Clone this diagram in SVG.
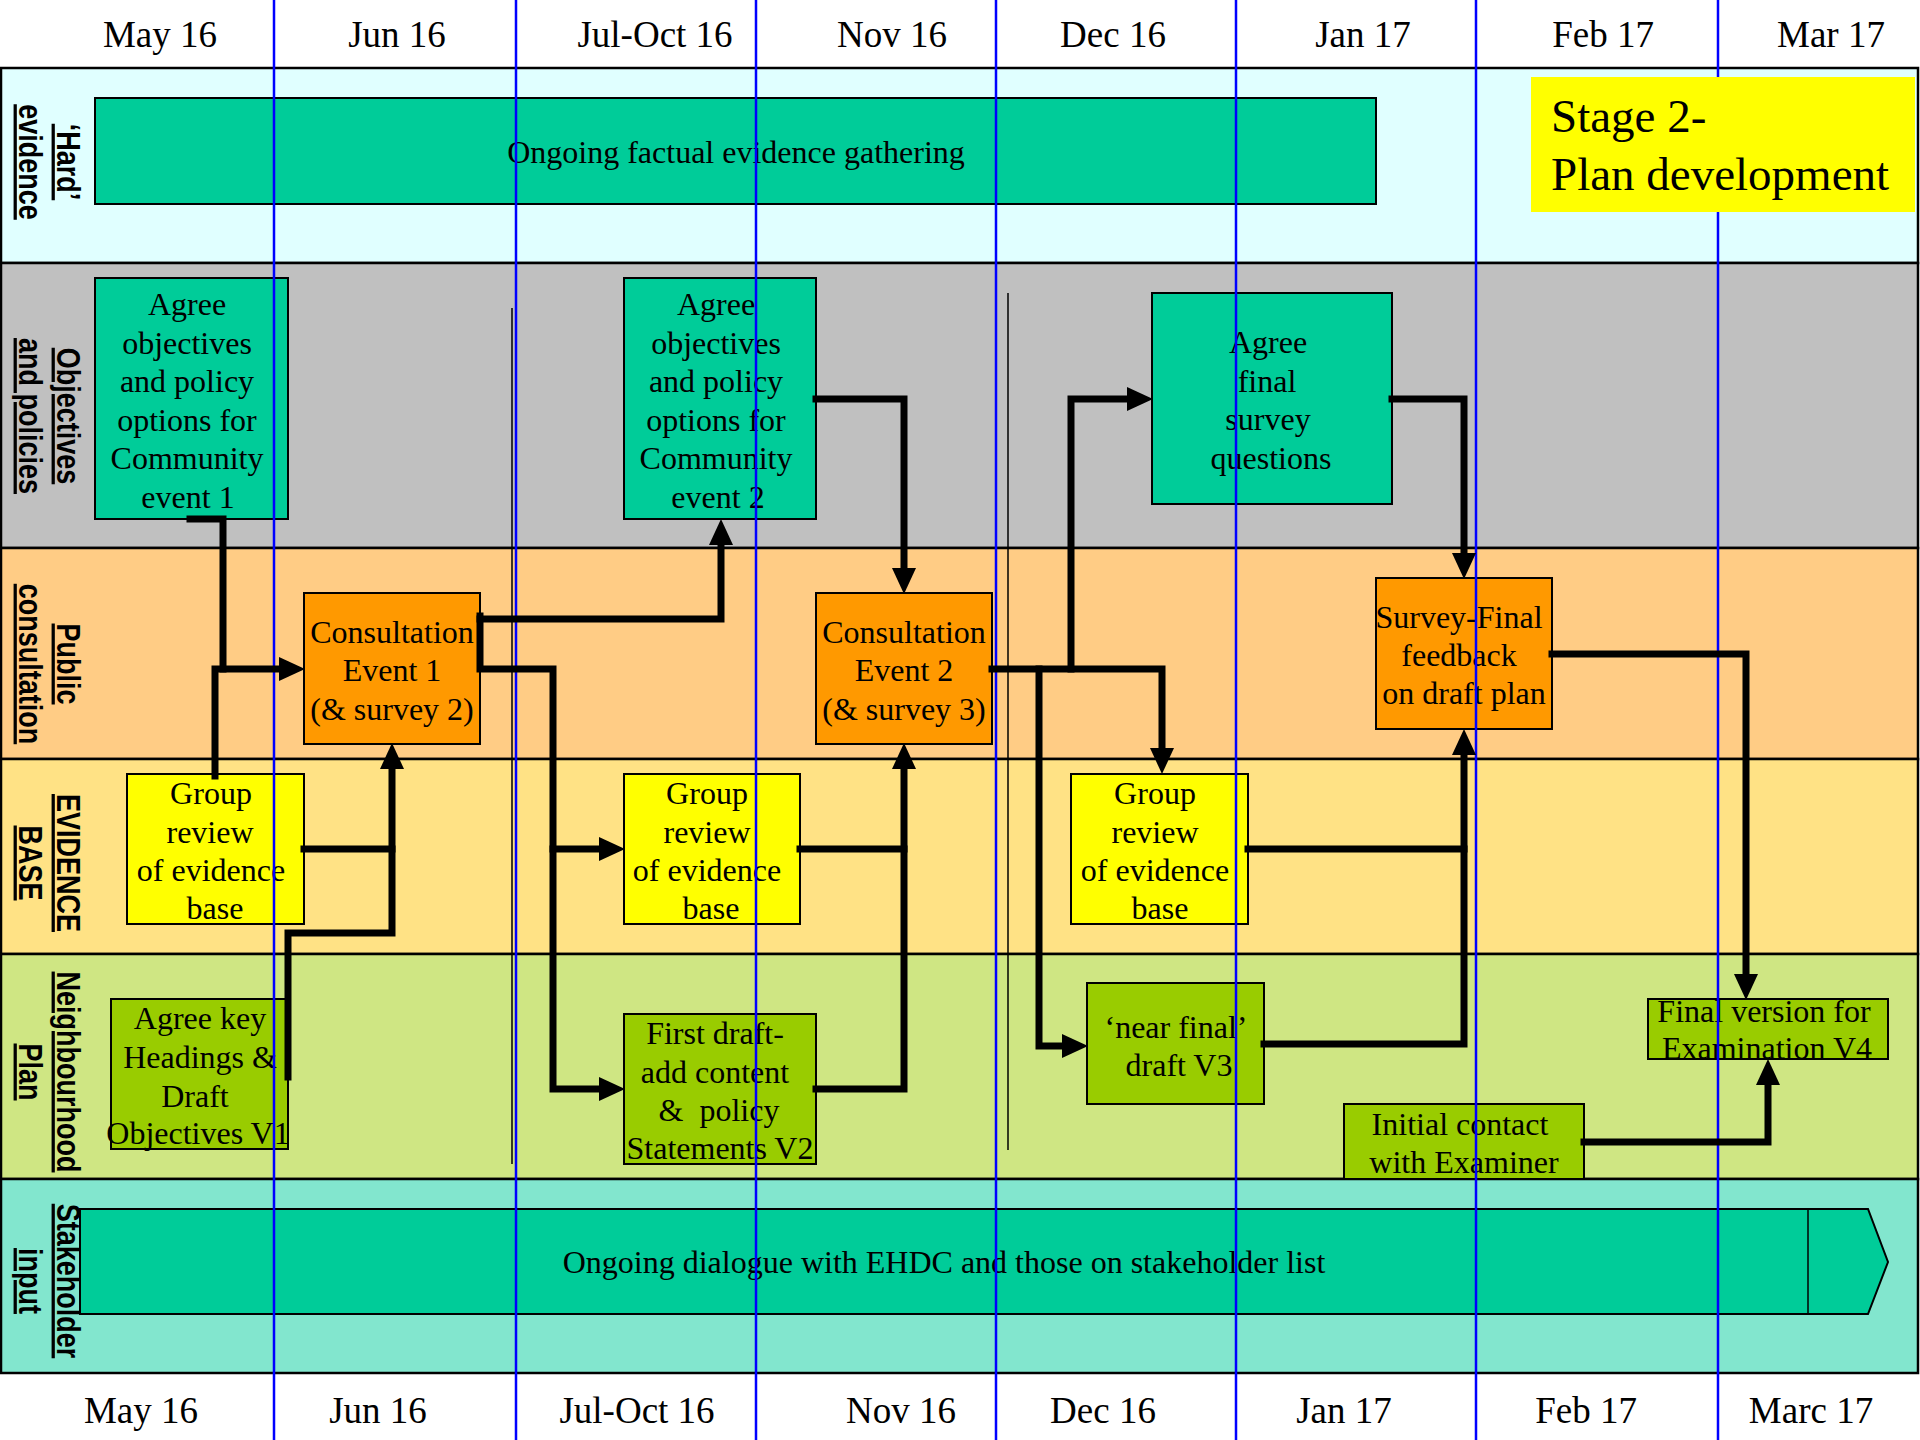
<svg xmlns="http://www.w3.org/2000/svg" width="1920" height="1440" viewBox="0 0 1920 1440">
<defs>
<style>
.lane{stroke:#000;stroke-width:2.5}
.bx{stroke:#000;stroke-width:2}
.t{font-family:"Liberation Serif","Times New Roman",serif;font-size:32px;fill:#000;text-anchor:middle}
.d{font-family:"Liberation Serif","Times New Roman",serif;font-size:37px;fill:#000;text-anchor:middle}
.ll{font-family:"Liberation Sans",Arial,sans-serif;font-size:27px;font-weight:bold;fill:#000;text-anchor:middle;text-decoration:underline}
.cn{fill:none;stroke:#000;stroke-width:7;stroke-linejoin:miter;stroke-linecap:square}
.blue{stroke:#0000FF;stroke-width:2.5}
.thin{stroke:#000;stroke-width:1.5}
</style>
<marker id="ah" viewBox="0 0 26 24" refX="0" refY="12" markerWidth="26" markerHeight="24" markerUnits="userSpaceOnUse" orient="auto">
<path d="M0,0 L26,12 L0,24 z" fill="#000"/>
</marker>
</defs>
<rect x="0" y="0" width="1920" height="1440" fill="#fff"/>

<g id="lanes">
<rect class="lane" x="1" y="68" width="1917" height="195" fill="#E0FFFF"/>
<rect class="lane" x="1" y="263" width="1917" height="285" fill="#C0C0C0"/>
<rect class="lane" x="1" y="548" width="1917" height="211" fill="#FFCC85"/>
<rect class="lane" x="1" y="759" width="1917" height="195" fill="#FFE285"/>
<rect class="lane" x="1" y="954" width="1917" height="225" fill="#CFE683"/>
<rect class="lane" x="1" y="1179" width="1917" height="194" fill="#82E6CE"/>
</g>

<g id="lane-labels">
<text class="ll" transform="translate(57,162) rotate(90) scale(1,1.2)">‘Hard’</text>
<text class="ll" transform="translate(19,162) rotate(90) scale(1,1.2)">evidence</text>
<text class="ll" transform="translate(57,416) rotate(90) scale(1,1.2)">Objectives</text>
<text class="ll" transform="translate(19,416) rotate(90) scale(1,1.2)">and policies</text>
<text class="ll" transform="translate(57,664) rotate(90) scale(1,1.2)">Public</text>
<text class="ll" transform="translate(19,664) rotate(90) scale(1,1.2)">consultation</text>
<text class="ll" transform="translate(57,863) rotate(90) scale(1,1.2)">EVIDENCE</text>
<text class="ll" transform="translate(19,863) rotate(90) scale(1,1.2)">BASE</text>
<text class="ll" transform="translate(57,1072) rotate(90) scale(1,1.2)">Neighbourhood</text>
<text class="ll" transform="translate(19,1072) rotate(90) scale(1,1.2)">Plan</text>
<text class="ll" transform="translate(57,1281) rotate(90) scale(1,1.2)">Stakeholder</text>
<text class="ll" transform="translate(19,1281) rotate(90) scale(1,1.2)">input</text>
</g>

<g id="dates">
<text class="d" x="160" y="47">May 16</text>
<text class="d" x="397" y="47">Jun 16</text>
<text class="d" x="655" y="47">Jul-Oct 16</text>
<text class="d" x="892" y="47">Nov 16</text>
<text class="d" x="1113" y="47">Dec 16</text>
<text class="d" x="1363" y="47">Jan 17</text>
<text class="d" x="1603" y="47">Feb 17</text>
<text class="d" x="1831" y="47">Mar 17</text>
<text class="d" x="141" y="1423">May 16</text>
<text class="d" x="378" y="1423">Jun 16</text>
<text class="d" x="637" y="1423">Jul-Oct 16</text>
<text class="d" x="901" y="1423">Nov 16</text>
<text class="d" x="1103" y="1423">Dec 16</text>
<text class="d" x="1344" y="1423">Jan 17</text>
<text class="d" x="1586" y="1423">Feb 17</text>
<text class="d" x="1811" y="1423">Marc 17</text>
</g>

<g id="dividers">
<line class="thin" x1="512" y1="308" x2="512" y2="1164"/>
<line class="thin" x1="1008" y1="293" x2="1008" y2="1150"/>
</g>

<g id="hard-evidence">
<rect class="bx" x="95" y="98" width="1281" height="106" fill="#00CC99"/>
<text class="t" x="736" y="163">Ongoing factual evidence gathering</text>
</g>

<g id="obj1">
<rect class="bx" x="95" y="278" width="193" height="241" fill="#00CC99"/>
<text class="t" y="315"><tspan x="187">Agree</tspan><tspan x="187" y="354">objectives</tspan><tspan x="187" y="392">and policy</tspan><tspan x="187" y="431">options for</tspan><tspan x="187" y="469">Community</tspan><tspan x="188" y="508">event 1</tspan></text>
</g>

<g id="obj2">
<rect class="bx" x="624" y="278" width="192" height="241" fill="#00CC99"/>
<text class="t" y="315"><tspan x="716">Agree</tspan><tspan x="716" y="354">objectives</tspan><tspan x="716" y="392">and policy</tspan><tspan x="716" y="431">options for</tspan><tspan x="716" y="469">Community</tspan><tspan x="718" y="508">event 2</tspan></text>
</g>

<g id="final-survey">
<rect class="bx" x="1152" y="293" width="240" height="211" fill="#00CC99"/>
<text class="t" y="353"><tspan x="1268">Agree</tspan><tspan x="1267" y="392">final</tspan><tspan x="1268" y="430">survey</tspan><tspan x="1271" y="469">questions</tspan></text>
</g>

<g id="ce1">
<rect class="bx" x="304" y="593" width="176" height="151" fill="#FF9900"/>
<text class="t" y="643"><tspan x="392">Consultation</tspan><tspan x="392" y="681">Event 1</tspan><tspan x="392" y="720">(&amp; survey 2)</tspan></text>
</g>

<g id="ce2">
<rect class="bx" x="816" y="593" width="176" height="151" fill="#FF9900"/>
<text class="t" y="643"><tspan x="904">Consultation</tspan><tspan x="904" y="681">Event 2</tspan><tspan x="904" y="720">(&amp; survey 3)</tspan></text>
</g>

<g id="survey-final">
<rect class="bx" x="1376" y="578" width="176" height="151" fill="#FF9900"/>
<text class="t" y="628"><tspan x="1459">Survey-Final</tspan><tspan x="1459" y="666">feedback</tspan><tspan x="1464" y="704">on draft plan</tspan></text>
</g>

<g id="ev1">
<rect class="bx" x="127" y="774" width="177" height="150" fill="#FFFF00"/>
<text class="t" y="804"><tspan x="211">Group</tspan><tspan x="210" y="843">review</tspan><tspan x="211" y="881">of evidence</tspan><tspan x="215" y="919">base</tspan></text>
</g>

<g id="ev2">
<rect class="bx" x="624" y="774" width="176" height="150" fill="#FFFF00"/>
<text class="t" y="804"><tspan x="707">Group</tspan><tspan x="707" y="843">review</tspan><tspan x="707" y="881">of evidence</tspan><tspan x="711" y="919">base</tspan></text>
</g>

<g id="ev3">
<rect class="bx" x="1071" y="774" width="177" height="150" fill="#FFFF00"/>
<text class="t" y="804"><tspan x="1155">Group</tspan><tspan x="1155" y="843">review</tspan><tspan x="1155" y="881">of evidence</tspan><tspan x="1160" y="919">base</tspan></text>
</g>

<g id="np1">
<rect class="bx" x="111" y="999" width="177" height="150" fill="#99CC00"/>
<text class="t" y="1029"><tspan x="200">Agree key</tspan><tspan x="200" y="1068">Headings &amp;</tspan><tspan x="195" y="1107">Draft</tspan><tspan x="198" y="1144">Objectives V1</tspan></text>
</g>

<g id="np2">
<rect class="bx" x="624" y="1014" width="192" height="150" fill="#99CC00"/>
<text class="t" y="1044"><tspan x="715">First draft-</tspan><tspan x="715" y="1083">add content</tspan><tspan x="719" y="1121" xml:space="preserve">&amp;  policy</tspan><tspan x="720" y="1159">Statements V2</tspan></text>
</g>

<g id="np3">
<rect class="bx" x="1087" y="983" width="177" height="121" fill="#99CC00"/>
<text class="t" y="1038"><tspan x="1176">‘near final’</tspan><tspan x="1179" y="1076">draft V3</tspan></text>
</g>

<g id="examiner">
<rect class="bx" x="1344" y="1104" width="240" height="75" fill="#99CC00"/>
<text class="t" y="1135"><tspan x="1460">Initial contact</tspan><tspan x="1464" y="1173">with Examiner</tspan></text>
</g>

<g id="np4">
<rect class="bx" x="1648" y="999" width="240" height="60" fill="#99CC00"/>
<text class="t" y="1022"><tspan x="1764">Final version for</tspan><tspan x="1767" y="1059">Examination V4</tspan></text>
</g>

<g id="stakeholder">
<polygon class="bx" points="80,1209 1868,1209 1888,1262 1868,1314 80,1314" fill="#00CC99"/>
<line class="thin" x1="1808" y1="1209" x2="1808" y2="1314"/>
<text class="t" x="944" y="1273">Ongoing dialogue with EHDC and those on stakeholder list</text>
</g>

<g id="month-lines">
<line class="blue" x1="274" y1="0" x2="274" y2="1440"/>
<line class="blue" x1="516" y1="0" x2="516" y2="1440"/>
<line class="blue" x1="756" y1="0" x2="756" y2="1440"/>
<line class="blue" x1="996" y1="0" x2="996" y2="1440"/>
<line class="blue" x1="1236" y1="0" x2="1236" y2="1440"/>
<line class="blue" x1="1476" y1="0" x2="1476" y2="1440"/>
<line class="blue" x1="1718" y1="0" x2="1718" y2="1440"/>
</g>

<g id="connectors">
<path class="cn" d="M190,519 H223 V669"/>
<path class="cn" d="M215,776 V669 H279" marker-end="url(#ah)"/>
<path class="cn" d="M480,619 H721 V545" marker-end="url(#ah)"/>
<path class="cn" d="M480,616 V669 H553 V1089 H599" marker-end="url(#ah)"/>
<path class="cn" d="M553,849 H599" marker-end="url(#ah)"/>
<path class="cn" d="M304,849 H392"/>
<path class="cn" d="M288,1077 V933 H392 V769" marker-end="url(#ah)"/>
<path class="cn" d="M816,399 H904 V568" marker-end="url(#ah)"/>
<path class="cn" d="M800,849 H904"/>
<path class="cn" d="M816,1089 H904 V769" marker-end="url(#ah)"/>
<path class="cn" d="M992,669 H1162 V748" marker-end="url(#ah)"/>
<path class="cn" d="M1071,669 V399 H1127" marker-end="url(#ah)"/>
<path class="cn" d="M1039,669 V1046 H1062" marker-end="url(#ah)"/>
<path class="cn" d="M1392,399 H1464 V553" marker-end="url(#ah)"/>
<path class="cn" d="M1248,849 H1464"/>
<path class="cn" d="M1264,1044 H1464 V755" marker-end="url(#ah)"/>
<path class="cn" d="M1552,654 H1746 V974" marker-end="url(#ah)"/>
<path class="cn" d="M1584,1142 H1768 V1085" marker-end="url(#ah)"/>
</g>

<g id="stage-title">
<rect x="1531" y="77" width="384" height="135" fill="#FFFF00"/>
<text font-family="Liberation Serif,'Times New Roman',serif" font-size="47" fill="#000"><tspan x="1551" y="132">Stage 2-</tspan><tspan x="1551" y="190">Plan development</tspan></text>
</g>
</svg>
